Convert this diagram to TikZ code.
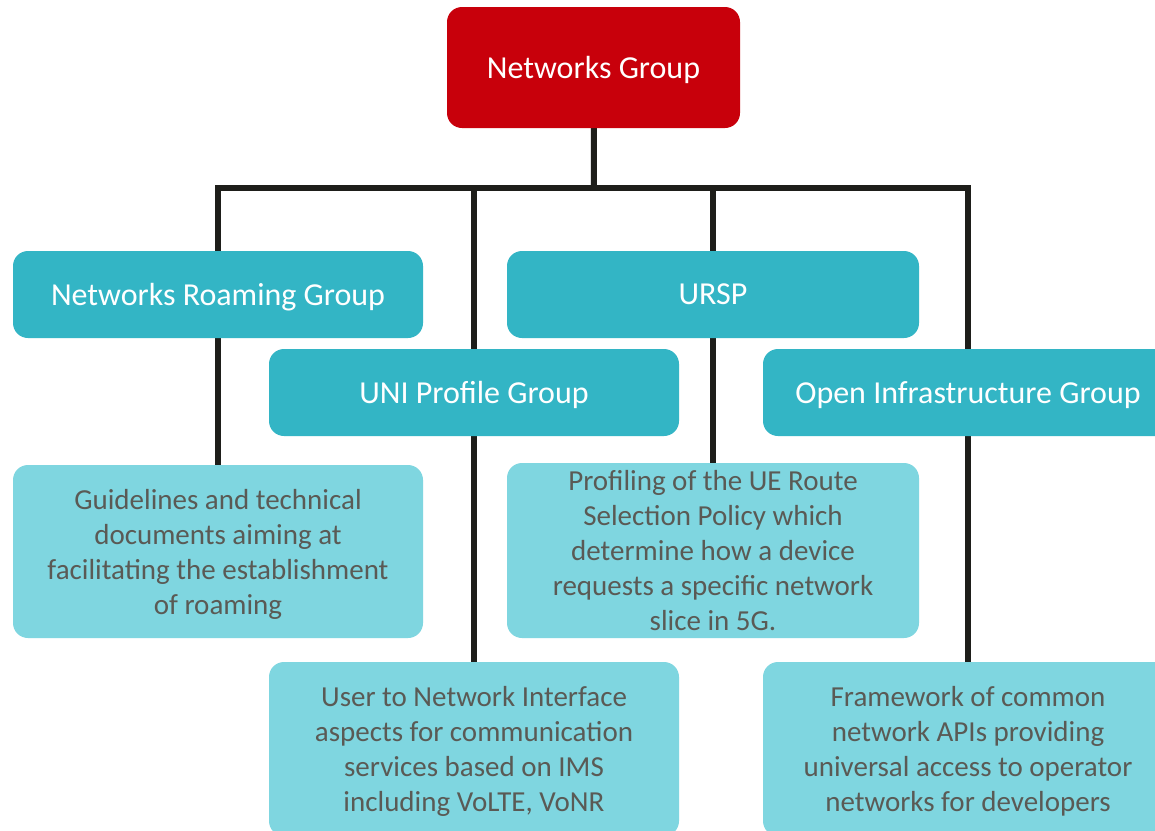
\documentclass[tikz,border=0pt]{standalone}
\usepackage{fontspec}
\setmainfont{Carlito}
\usetikzlibrary{backgrounds}
\definecolor{ngred}{HTML}{C8000B}
\definecolor{headteal}{HTML}{33B5C5}
\definecolor{descteal}{HTML}{7FD6E0}
\definecolor{desctext}{HTML}{5A5A55}
\definecolor{linkcol}{HTML}{1E1E1A}
\tikzset{
  box/.style={rounded corners=15pt, inner sep=0pt, align=center, text depth=0pt},
  topbox/.style={box, fill=ngred, text=white, minimum width=293pt, minimum height=121pt,
    font=\fontsize{32}{38}\selectfont},
  headbox/.style={box, fill=headteal, text=white, minimum width=410pt, minimum height=87pt,
    font=\fontsize{32}{38}\selectfont},
  descbox/.style={box, fill=descteal, text=desctext, minimum width=410pt, minimum height=174pt,
    font=\fontsize{29}{35}\selectfont},
  link/.style={line width=6pt, draw=linkcol}
}
\begin{document}
\begin{tikzpicture}[x=1pt, y=-1pt]
\useasboundingbox (0,0) rectangle (1155,830);
\clip (0,0) rectangle (1155,830);

% top level
\node[topbox] (ng) at (593.5,67.5) {Networks Group};

% working groups
\node[headbox] (nrg)  at (218,294.5) {Networks Roaming Group};
\node[headbox, minimum width=412pt] (ursp) at (713,294.5) {URSP};
\node[headbox] (uni)  at (474,392.5) {UNI Profile Group};
\node[headbox] (oig)  at (968,392.5) {Open Infrastructure Group};

% descriptions
\node[descbox, minimum height=173pt] (nrgd) at (218,551.5)
  {Guidelines and technical\\documents aiming at\\facilitating the establishment\\of roaming};
\node[descbox, minimum width=412pt, minimum height=175pt] (urspd) at (713,550.5)
  {Profiling of the UE Route\\Selection Policy which\\determine how a device\\requests a specific network\\slice in 5G.};
\node[descbox] (unid) at (474,749)
  {User to Network Interface\\aspects for communication\\services based on IMS\\including VoLTE, VoNR};
\node[descbox] (oigd) at (968,749)
  {Framework of common\\network APIs providing\\universal access to operator\\networks for developers};

% connectors behind the boxes
\coordinate (bus) at (594,188);
\begin{scope}[on background layer]
  \fill[white] (0,0) rectangle (1155,830);
  \draw[link] (ng.center) -- (bus);
  \draw[link] (nrg.center) |- (bus) -| (oig.center);
  \draw[link] (uni.center) -- (uni.center |- bus);
  \draw[link] (ursp.center) -- (ursp.center |- bus);
  \draw[link] (nrg.center) -- (nrgd.center);
  \draw[link] (uni.center) -- (unid.center);
  \draw[link] (ursp.center) -- (urspd.center);
  \draw[link] (oig.center) -- (oigd.center);
\end{scope}
\end{tikzpicture}
\end{document}
